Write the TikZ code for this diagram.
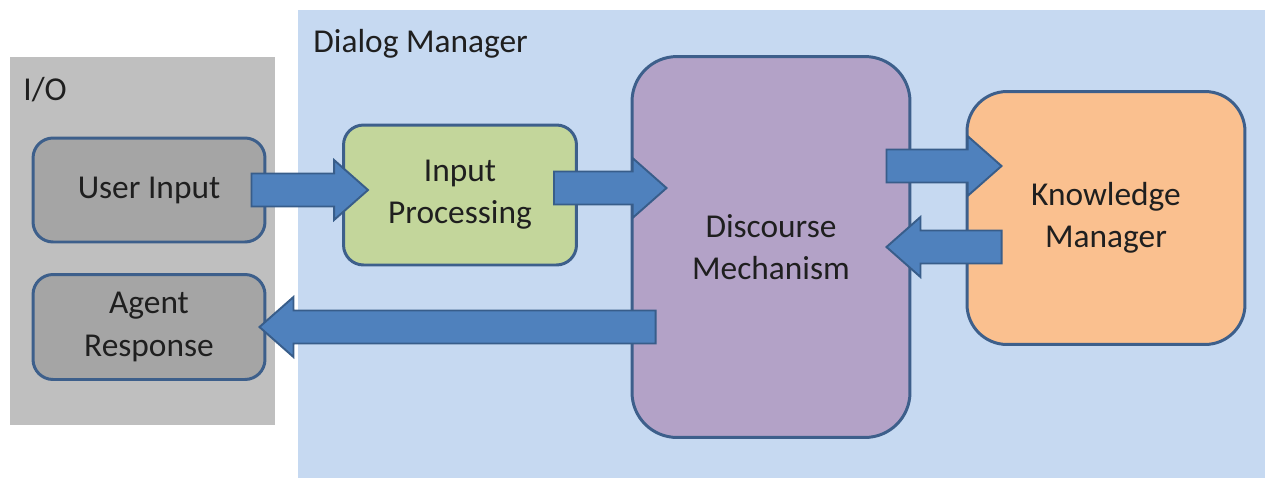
\documentclass[tikz,border=0pt]{standalone}
\usepackage{fontspec}
\setmainfont{Carlito}
\usetikzlibrary{calc}

\definecolor{iogray}{HTML}{BFBFBF}
\definecolor{dmblue}{HTML}{C6D9F1}
\definecolor{boxgray}{HTML}{A5A5A5}
\definecolor{boxgreen}{HTML}{C3D69B}
\definecolor{boxpurple}{HTML}{B3A2C7}
\definecolor{boxorange}{HTML}{FAC08F}
\definecolor{boxline}{HTML}{3D5F8B}
\definecolor{arrowblue}{HTML}{4F81BD}
\definecolor{arrowline}{HTML}{385D8A}

\tikzset{
  block/.style={draw=boxline, line width=1.7pt, rounded corners=0.4cm,
    align=center, inner sep=0pt, text=black!88,
    font=\fontsize{19}{24}\selectfont},
  panellabel/.style={anchor=base west, inner sep=0pt, text=black!88,
    font=\fontsize{19}{24}\selectfont},
  bigarrow/.style={fill=arrowblue, draw=arrowline, line width=1.1pt,
    line join=miter},
}

% Flecha gruesa desde #1 (cola) hasta #2 (punta)
\newcommand{\fatarrow}[2]{%
  \draw[bigarrow] ($(#1)+(0,0.33cm)$)
    -- ($(#2)!0.68cm!(#1)+(0,0.33cm)$)
    -- ($(#2)!0.68cm!(#1)+(0,0.6cm)$)
    -- (#2)
    -- ($(#2)!0.68cm!(#1)+(0,-0.6cm)$)
    -- ($(#2)!0.68cm!(#1)+(0,-0.33cm)$)
    -- ($(#1)+(0,-0.33cm)$) -- cycle;}

\begin{document}
\begin{tikzpicture}[x=0.02cm, y=-0.02cm]
    \useasboundingbox (0,0) rectangle (1265,478);

    % Dibujar las areas de fondo
    \fill[iogray] (10,57) rectangle (275,425);
    \fill[dmblue] (298,10) rectangle (1265,478);
    \node[panellabel] (iolabel) at (23,100) {I/O};
    \node[panellabel] (dmlabel) at (313,52) {Dialog Manager};

    % Dibujar los bloques
    \node[block, fill=boxgray, minimum width=4.64cm, minimum height=2.08cm]
        (ui) at (149,190) {User Input};
    \node[block, fill=boxgray, minimum width=4.64cm, minimum height=2.1cm]
        (ar) at (149,327) {Agent\\Response};
    \node[block, fill=boxgreen, minimum width=4.66cm, minimum height=2.8cm]
        (ip) at (460,195) {Input\\Processing};
    \node[block, fill=boxpurple, rounded corners=0.9cm,
        minimum width=5.56cm, minimum height=7.62cm]
        (dm) at (771,247) {Discourse\\Mechanism};
    \node[block, fill=boxorange, rounded corners=0.8cm,
        minimum width=5.56cm, minimum height=5.06cm]
        (km) at (1106,218) {Knowledge\\Manager};

    % Marcar los extremos de las flechas
    \coordinate (uiout) at ([xshift=-0.3cm]ui.east);
    \coordinate (ipin) at ([xshift=0.52cm]uiout -| ip.west);
    \coordinate (ipout) at ([xshift=-0.48cm, yshift=0.14cm]ip.east);
    \coordinate (dmin) at ([xshift=0.72cm]ipout -| dm.west);
    \coordinate (dmout) at ([xshift=-0.5cm, yshift=1.62cm]dm.east);
    \coordinate (kmin) at ([xshift=0.72cm]dmout -| km.west);
    \coordinate (kmout) at ([xshift=0.72cm]dm.east -| km.west);
    \coordinate (dmback) at ([xshift=-0.5cm]dm.east);
    \coordinate (dmresp) at ([xshift=0.5cm]ar.east -| dm.west);
    \coordinate (arin) at ([xshift=-0.14cm]ar.east);

    % Dibujar las flechas
    \fatarrow{uiout}{ipin}
    \fatarrow{ipout}{dmin}
    \fatarrow{dmout}{kmin}
    \fatarrow{kmout}{dmback}
    \fatarrow{dmresp}{arin}
\end{tikzpicture}
\end{document}
